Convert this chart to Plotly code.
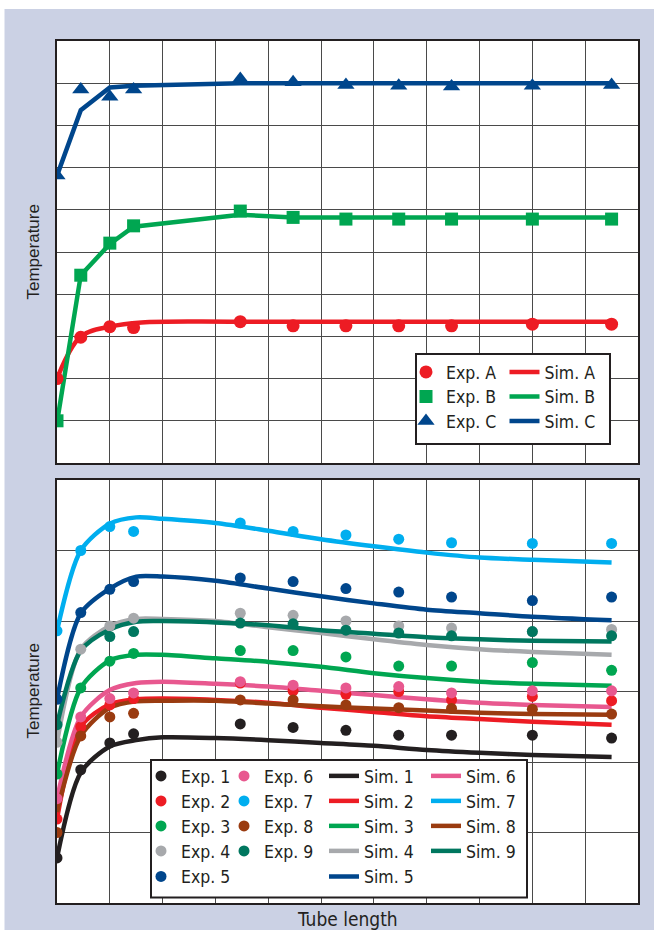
import plotly.graph_objects as go

# ---------------- data ----------------
exp_x = [0, 0.45, 1.0, 1.45, 3.47, 4.47, 5.47, 6.47, 7.47, 9.0, 10.5]

# top panel
exp_A = [2.0, 2.98, 3.23, 3.21, 3.35, 3.25, 3.25, 3.25, 3.25, 3.29, 3.29]
exp_B = [1.0, 4.45, 5.21, 5.62, 5.97, 5.82, 5.78, 5.78, 5.78, 5.78, 5.78]
exp_C = [6.81, 8.85, 8.68, 8.85, 9.1, 9.02, 8.96, 8.94, 8.92, 8.94, 8.96]
simA_x = [0, 0.45, 1.0, 1.6, 3.47, 10.5]
sim_A = [2.0, 3.0, 3.23, 3.33, 3.35, 3.35]
simB_x = [0, 0.45, 1.0, 1.45, 3.47, 4.47, 10.5]
sim_B = [0.96, 4.45, 5.19, 5.6, 5.88, 5.82, 5.82]
simC_x = [0, 0.45, 1.0, 1.45, 3.47, 10.5]
sim_C = [6.81, 8.36, 8.9, 8.94, 9.0, 9.0]

# bottom panel
sim_x = [0, 0.45, 1.0, 1.5, 2.0, 3.0, 4.0, 5.0, 6.0, 7.0, 8.0, 9.0, 10.5]
exp_1 = [0.64, 1.89, 2.27, 2.40, 2.54, 2.49, 2.45, 2.38, 2.38, 2.38, 2.34]
sim_1 = [0.64, 1.85, 2.22, 2.31, 2.35, 2.34, 2.31, 2.27, 2.23, 2.17, 2.13, 2.10, 2.07]
exp_2 = [1.19, 2.50, 2.81, 2.90, 3.12, 3.01, 2.96, 3.00, 2.88, 2.93, 2.87]
sim_2 = [1.19, 2.50, 2.82, 2.89, 2.90, 2.88, 2.84, 2.77, 2.71, 2.65, 2.61, 2.57, 2.53]
exp_3 = [1.83, 3.05, 3.43, 3.54, 3.58, 3.58, 3.49, 3.36, 3.36, 3.41, 3.30]
sim_3 = [1.83, 3.05, 3.44, 3.52, 3.52, 3.47, 3.42, 3.35, 3.26, 3.19, 3.14, 3.11, 3.08]
exp_4 = [2.28, 3.60, 3.93, 4.04, 4.11, 4.08, 4.00, 3.93, 3.90, 3.85, 3.88]
sim_4 = [2.28, 3.60, 3.93, 4.03, 4.03, 4.00, 3.91, 3.83, 3.74, 3.66, 3.60, 3.56, 3.52]
exp_5 = [2.89, 4.12, 4.45, 4.56, 4.61, 4.56, 4.46, 4.41, 4.34, 4.29, 4.34]
sim_5 = [2.89, 4.11, 4.46, 4.63, 4.63, 4.57, 4.46, 4.35, 4.25, 4.16, 4.11, 4.06, 4.01]
exp_6 = [1.48, 2.64, 2.90, 2.98, 3.14, 3.09, 3.05, 3.07, 2.98, 3.01, 3.01]
sim_6 = [1.48, 2.64, 3.02, 3.12, 3.14, 3.11, 3.07, 3.01, 2.95, 2.89, 2.84, 2.81, 2.78]
exp_7 = [3.86, 5.0, 5.34, 5.27, 5.39, 5.27, 5.22, 5.16, 5.11, 5.10, 5.10]
sim_7 = [3.86, 5.0, 5.38, 5.47, 5.45, 5.39, 5.28, 5.16, 5.06, 4.97, 4.90, 4.87, 4.83]
exp_8 = [1.00, 2.37, 2.64, 2.69, 2.88, 2.88, 2.81, 2.77, 2.76, 2.75, 2.68]
sim_8 = [1.29, 2.37, 2.77, 2.86, 2.87, 2.87, 2.83, 2.79, 2.76, 2.73, 2.70, 2.68, 2.67]
exp_9 = [2.53, None, 3.78, 3.85, 3.97, 3.96, 3.87, 3.83, 3.79, 3.85, 3.79]
sim_9 = [2.53, 3.58, 3.88, 3.99, 4.00, 3.98, 3.94, 3.87, 3.82, 3.77, 3.74, 3.72, 3.71]

top_names = ["A", "B", "C"]
bottom_names = ["1", "2", "3", "4", "5", "6", "7", "8", "9"]

# ---------------- styling ----------------
W, H = 654, 930
ML, MR, MT, MB = 57, 16, 41, 27
PW, PH = W - ML - MR, H - MT - MB
BG = "#cbd1e4"
INK = "#231f20"
GRID = "#4a4a4a"

top_colors = {"A": "#ed1c24", "B": "#00a651", "C": "#00468c"}
top_symbols = {"A": "circle", "B": "square", "C": "triangle-up"}
bot_colors = {"1": "#231f20", "2": "#ed1c24", "3": "#00a651", "4": "#a7a9ac",
              "5": "#00468c", "6": "#e8588f", "7": "#00aeef", "8": "#9a3b10",
              "9": "#00775f"}


def px2x(px):
    return (px - ML) / PW


def py2y(py):
    return (H - MB - py) / PH


COND = "DejaVu Sans Condensed, Liberation Sans Narrow, Arial Narrow, sans-serif"
LEG_FONT = dict(family=COND, size=17.5, color=INK)

fig = go.Figure()
legends = {}
leg_count = [0]


def new_legend(text_left_px, row_py):
    leg_count[0] += 1
    key = "legend" if leg_count[0] == 1 else "legend%d" % leg_count[0]
    legends[key] = dict(x=px2x(text_left_px - 40), y=py2y(row_py), xanchor="left",
                        yanchor="middle", bgcolor="rgba(0,0,0,0)", borderwidth=0,
                        font=LEG_FONT, orientation="v")
    return key


# top panel traces
top_exp = {"A": exp_A, "B": exp_B, "C": exp_C}
top_sim = {"A": (simA_x, sim_A, "spline"), "B": (simB_x, sim_B, "linear"),
           "C": (simC_x, sim_C, "linear")}
top_rows = [372, 396.5, 421]
for i, n in enumerate(top_names):
    sx, sy, shape = top_sim[n]
    fig.add_trace(go.Scatter(x=sx, y=sy, mode="lines", name="Sim. " + n,
                             line=dict(color=top_colors[n], width=4.5, shape=shape),
                             xaxis="x", yaxis="y",
                             legend=new_legend(544.5, top_rows[i])))
for i, n in enumerate(top_names):
    fig.add_trace(go.Scatter(x=exp_x, y=top_exp[n], mode="markers", name="Exp. " + n,
                             marker=dict(color=top_colors[n], symbol=top_symbols[n],
                                         size=13 if n != "C" else 15),
                             xaxis="x", yaxis="y",
                             legend=new_legend(446, top_rows[i])))

# bottom panel traces
bot_exp = {"1": exp_1, "2": exp_2, "3": exp_3, "4": exp_4, "5": exp_5,
           "6": exp_6, "7": exp_7, "8": exp_8, "9": exp_9}
bot_sim = {"1": sim_1, "2": sim_2, "3": sim_3, "4": sim_4, "5": sim_5,
           "6": sim_6, "7": sim_7, "8": sim_8, "9": sim_9}
bot_rows = [776, 801, 826, 851, 876.5]
for i, n in enumerate(bottom_names):
    col_text = 364 if i < 5 else 466
    fig.add_trace(go.Scatter(x=sim_x, y=bot_sim[n], mode="lines", name="Sim. " + n,
                             line=dict(color=bot_colors[n], width=4.5, shape="spline",
                                       smoothing=0.8),
                             xaxis="x2", yaxis="y2",
                             legend=new_legend(col_text, bot_rows[i % 5])))
for i, n in enumerate(bottom_names):
    col_text = 181 if i < 5 else 264
    fig.add_trace(go.Scatter(x=exp_x, y=bot_exp[n], mode="markers", name="Exp. " + n,
                             marker=dict(color=bot_colors[n], size=11),
                             xaxis="x2", yaxis="y2",
                             legend=new_legend(col_text, bot_rows[i % 5])))

axis_common = dict(showgrid=True, gridcolor=GRID, gridwidth=1.3, dtick=1,
                   showticklabels=False, ticks="", zeroline=False,
                   showline=True, mirror=True, linecolor=INK, linewidth=2,
                   fixedrange=True)

top_dom = [py2y(463), 1.0]
bot_dom = [0.0, py2y(480)]

shapes = [
    # white strips at top and left of the page
    dict(type="rect", xref="paper", yref="paper", x0=px2x(0), x1=px2x(W),
         y0=py2y(9), y1=py2y(0), fillcolor="white", line=dict(width=0), layer="below"),
    dict(type="rect", xref="paper", yref="paper", x0=px2x(0), x1=px2x(4.5),
         y0=py2y(H), y1=py2y(0), fillcolor="white", line=dict(width=0), layer="below"),
    # legend boxes
    dict(type="rect", xref="paper", yref="paper", x0=px2x(416), x1=px2x(610),
         y0=py2y(444), y1=py2y(354), fillcolor="white",
         line=dict(color=INK, width=2), layer="above"),
    dict(type="rect", xref="paper", yref="paper", x0=px2x(151), x1=px2x(527),
         y0=py2y(897.5), y1=py2y(760), fillcolor="white",
         line=dict(color=INK, width=2), layer="above"),
]

title_font = dict(family="Liberation Sans, Arial, sans-serif", size=17, color=INK)
annotations = [
    dict(text="Temperature", xref="paper", yref="paper", x=px2x(32.5), y=py2y(252),
         textangle=-90, showarrow=False, xanchor="center", yanchor="middle", font=title_font),
    dict(text="Temperature", xref="paper", yref="paper", x=px2x(32.5), y=py2y(691),
         textangle=-90, showarrow=False, xanchor="center", yanchor="middle", font=title_font),
    dict(text="Tube length", xref="paper", yref="paper", x=0.5, y=py2y(918.5),
         showarrow=False, xanchor="center", yanchor="middle",
         font=dict(family=COND, size=19, color=INK)),
]

fig.update_layout(
    width=W, height=H,
    margin=dict(l=ML, r=MR, t=MT, b=MB, pad=0),
    paper_bgcolor=BG, plot_bgcolor="white",
    showlegend=True,
    xaxis=dict(domain=[0, 1], range=[0, 11], anchor="y", **axis_common),
    yaxis=dict(domain=top_dom, range=[0, 10], anchor="x", **axis_common),
    xaxis2=dict(domain=[0, 1], range=[0, 11], anchor="y2", **axis_common),
    yaxis2=dict(domain=bot_dom, range=[0, 6], anchor="x2", **axis_common),
    shapes=shapes,
    annotations=annotations,
    **legends,
)

fig.write_html("out.html",
               config={"displayModeBar": False},
               post_script="document.body.style.margin='0';document.body.style.overflow='hidden';")
